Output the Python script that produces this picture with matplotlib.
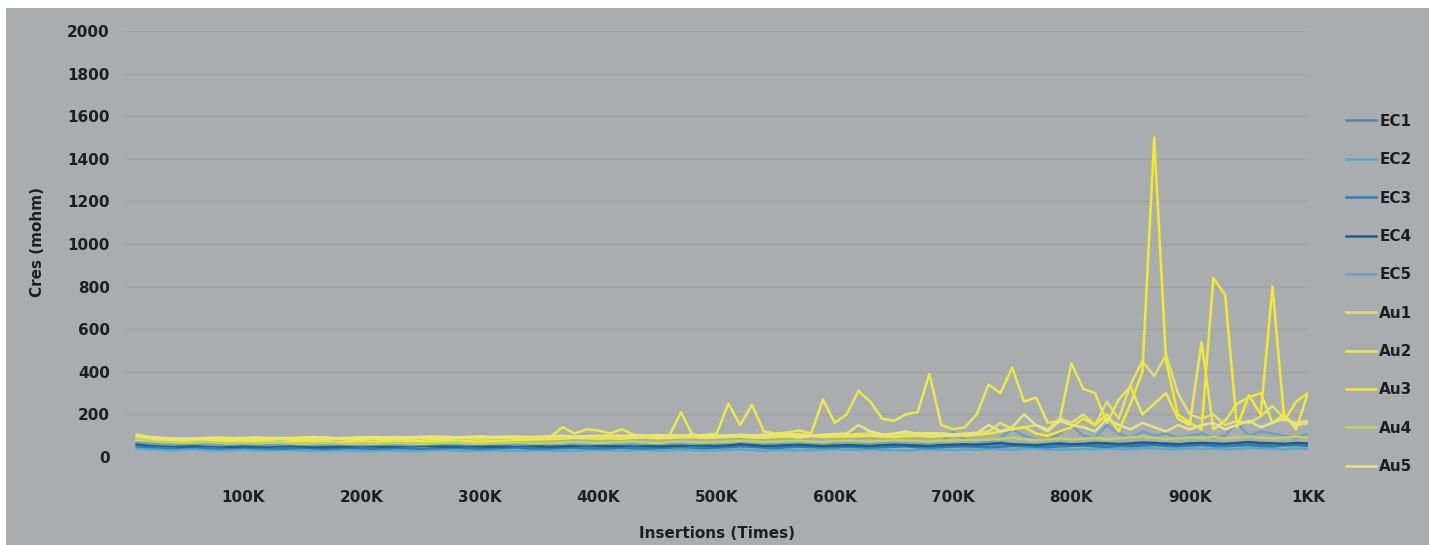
import matplotlib
matplotlib.use("Agg")
import matplotlib.pyplot as plt
from matplotlib.patches import Rectangle

# ---------------- data ----------------
insertions_k = list(range(10, 1001, 10))  # thousands of insertions

EC1 = [55,52,50,52,54,50,48,50,52,50,
       48,50,52,50,48,46,48,50,52,50,
       50,48,46,48,50,52,50,48,46,48,
       50,52,50,48,46,48,50,52,54,50,
       48,50,52,50,48,50,52,54,52,50,
       52,56,54,50,52,54,56,52,50,52,
       54,52,50,52,56,54,52,50,52,54,
       56,54,58,60,56,54,52,56,58,54,
       56,58,60,62,58,56,60,64,60,58,
       60,62,58,56,60,62,64,60,58,62]
EC2 = [40,36,34,32,34,36,32,30,32,34,
       32,30,32,34,30,28,30,32,30,28,
       30,32,30,28,30,32,34,30,28,30,
       32,30,28,30,32,30,28,30,32,34,
       32,30,32,34,30,32,34,32,30,32,
       34,36,32,30,34,32,30,32,34,36,
       34,32,36,34,32,30,34,36,34,32,
       36,34,38,36,34,38,40,36,34,36,
       38,36,40,38,36,42,40,38,36,40,
       38,40,36,38,42,40,38,36,40,38]
EC3 = [50,46,44,42,44,46,42,40,42,44,
       42,40,38,40,42,40,38,40,42,40,
       38,40,42,40,38,40,42,44,40,38,
       40,42,44,40,38,40,42,44,42,40,
       42,44,42,40,42,44,46,44,42,44,
       46,50,48,44,42,46,48,46,44,46,
       48,46,44,46,48,50,46,44,46,48,
       50,48,46,48,52,50,48,46,50,52,
       54,50,48,52,50,54,56,52,50,54,
       56,52,50,54,56,52,50,54,56,52]
EC4 = [60,56,54,52,50,52,54,50,48,50,
       50,48,50,52,50,48,46,48,50,52,
       50,48,50,52,54,50,48,50,52,50,
       48,50,52,54,50,48,50,52,54,52,
       50,52,54,52,50,52,54,56,54,52,
       54,60,56,52,54,56,58,54,52,54,
       56,54,52,56,58,56,54,52,56,58,
       60,58,62,66,60,58,56,60,64,60,
       62,66,64,60,64,68,66,62,60,64,
       66,64,62,66,70,66,64,62,66,64]
EC5 = [70,64,60,58,60,62,58,56,58,60,
       58,56,58,60,58,56,58,60,58,56,
       58,60,58,56,58,60,62,60,58,60,
       62,60,58,60,62,64,66,62,60,62,
       64,62,60,62,64,66,64,62,64,66,
       68,72,70,66,64,68,70,66,64,68,
       70,68,66,70,72,70,68,66,70,120,
       80,74,72,90,130,100,84,80,110,150,
       100,90,150,110,90,120,100,110,90,100,
       110,90,100,160,100,120,110,100,90,110]
Au1 = [100,92,88,86,84,86,88,84,86,88,
       86,88,90,86,88,90,92,88,90,92,
       90,92,94,90,92,94,96,92,94,96,
       94,96,92,94,96,98,100,96,98,100,
       98,100,102,98,100,104,100,102,98,100,
       102,104,100,106,102,104,108,100,104,106,
       104,108,110,106,104,110,112,108,110,106,
       110,114,120,160,130,140,150,130,180,160,
       200,150,260,180,340,450,380,480,300,200,
       180,200,150,170,160,190,240,180,160,170]
Au2 = [95,88,84,82,80,84,82,80,78,80,
       82,80,84,82,80,82,84,86,82,84,
       86,84,82,86,88,84,86,90,88,86,
       88,90,86,88,92,96,140,110,130,125,
       110,130,105,100,102,98,210,100,104,108,
       250,150,245,120,110,115,125,110,270,160,
       200,310,260,180,170,200,210,390,150,130,
       140,200,340,300,420,260,280,160,170,440,
       320,300,160,270,330,200,250,300,180,150,
       540,130,170,250,280,300,160,200,130,300]
Au3 = [80,76,78,74,76,72,74,76,74,72,
       74,72,70,74,76,72,74,70,72,74,
       72,74,70,76,74,72,76,78,74,72,
       74,76,78,80,82,84,86,90,88,86,
       88,86,90,92,88,90,92,94,90,92,
       94,96,92,90,94,96,92,98,94,96,
       96,98,100,96,94,98,100,96,98,100,
       100,104,110,120,130,140,110,100,120,140,
       180,150,200,120,250,400,1500,450,200,160,
       130,840,760,140,290,200,800,170,260,300]
Au4 = [85,75,70,68,66,68,70,66,64,66,
       64,66,68,64,62,64,66,64,62,64,
       62,64,66,64,62,64,66,68,64,62,
       64,66,68,66,64,66,68,70,68,66,
       68,70,72,68,66,70,72,70,68,70,
       72,76,74,70,72,74,76,72,70,74,
       76,74,72,76,78,76,74,72,76,78,
       80,78,82,86,90,84,80,82,88,84,
       86,90,84,88,92,96,90,86,88,92,
       90,94,88,92,96,90,88,92,96,90]
Au5 = [105,95,90,88,86,88,90,92,88,90,
       92,90,88,90,92,94,90,88,90,92,
       94,92,90,92,94,96,92,90,94,96,
       92,94,96,94,92,96,98,94,96,98,
       100,98,96,100,102,98,100,104,100,98,
       100,104,102,100,104,106,102,100,104,108,
       110,150,120,106,110,120,108,112,110,104,
       108,112,150,120,140,200,150,120,170,150,
       140,120,180,150,130,160,140,120,150,130,
       150,160,130,150,170,140,160,180,150,160]

series_names = ["EC1", "EC2", "EC3", "EC4", "EC5", "Au1", "Au2", "Au3", "Au4", "Au5"]
series_values = [EC1, EC2, EC3, EC4, EC5, Au1, Au2, Au3, Au4, Au5]
series_colors = ["#4f86b0", "#5aa8cc", "#2d7fb8", "#1e5f88", "#6d9fc8",
                 "#e2e070", "#ece84a", "#f2ea2a", "#bfd25e", "#e6e488"]

x_ticks = [100, 200, 300, 400, 500, 600, 700, 800, 900, 1000]
x_tick_labels = ["100K", "200K", "300K", "400K", "500K", "600K", "700K", "800K", "900K", "1KK"]
y_ticks = list(range(0, 2001, 200))

# ---------------- figure ----------------
plt.rcParams['font.family'] = ['DejaVu Sans']
BG = "#a9adb0"
TXT = "#1e1e1e"
FS = 11

fig = plt.figure(figsize=(14.29, 5.45), dpi=100)
fig.patch.set_facecolor("white")
fig.patches.append(Rectangle((6/1429, 0), 1 - 6/1429, 1 - 8/545,
                             transform=fig.transFigure, facecolor=BG,
                             edgecolor="none", zorder=-10))

ax = fig.add_axes([125/1429, (545-457)/545, (1308-125)/1429, 426/545])
ax.set_facecolor("none")

for name, vals, col in zip(series_names, series_values, series_colors):
    ax.plot(insertions_k, vals, color=col, lw=1.8, label=name,
            solid_joinstyle="round")

ax.set_xlim(0, 1000)
ax.set_ylim(0, 2000)
ax.set_yticks(y_ticks)
ax.set_yticklabels([str(v) for v in y_ticks], fontweight="bold")
ax.set_xticks(x_ticks)
ax.set_xticklabels(x_tick_labels, fontweight="bold")
ax.tick_params(axis="both", length=0, labelsize=FS, colors=TXT)
ax.tick_params(axis="y", pad=11)
ax.tick_params(axis="x", pad=24)

ax.grid(axis="y", color="#9ea2a5", lw=0.9)
ax.set_axisbelow(True)
for s in ax.spines.values():
    s.set_visible(False)

fig.text(717/1429, 1 - 534/545, "Insertions (Times)", ha="center", va="center",
         fontsize=FS, fontweight="bold", color=TXT)
fig.text(37/1429, 1 - 242/545, "Cres (mohm)", ha="center", va="center",
         rotation=90, fontsize=FS, fontweight="bold", color=TXT)

leg = fig.legend(loc="center left", bbox_to_anchor=(1338/1429, 1 - 294/545),
                 frameon=False, prop={"size": FS, "weight": "bold"},
                 labelspacing=1.53, handlelength=2.0,
                 handletextpad=0.2, borderpad=0, labelcolor=TXT)

fig.savefig("out.png", dpi=100, facecolor=fig.get_facecolor())
